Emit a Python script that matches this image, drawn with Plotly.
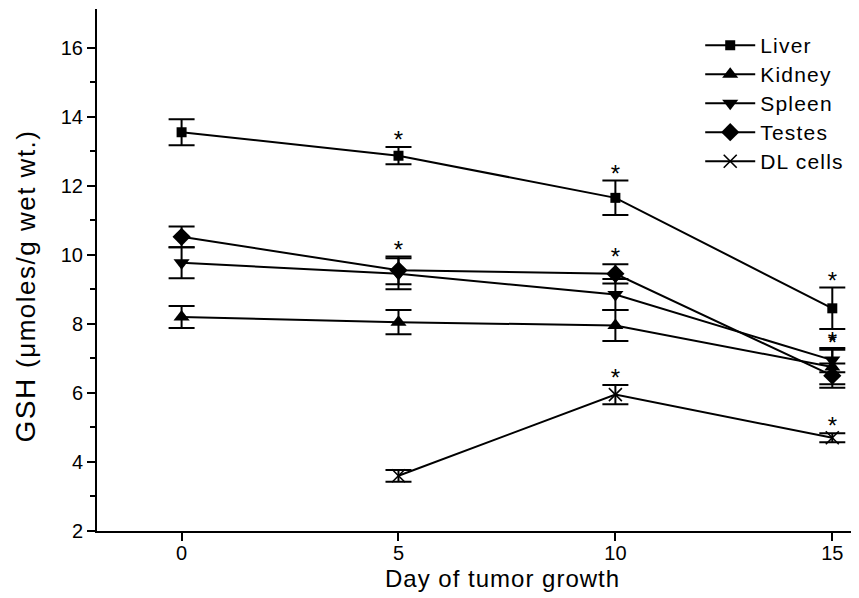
import plotly.graph_objects as go

days = [0, 5, 10, 15]
dl_days = [5, 10, 15]

liver = [13.55, 12.87, 11.65, 8.45]
liver_err = [0.38, 0.25, 0.5, 0.6]
kidney = [8.2, 8.05, 7.95, 6.75]
kidney_err = [0.32, 0.35, 0.45, 0.5]
spleen = [9.77, 9.45, 8.85, 6.95]
spleen_err = [0.45, 0.45, 0.45, 0.35]
testes = [10.52, 9.55, 9.45, 6.5]
testes_err = [0.3, 0.4, 0.28, 0.35]
dl_cells = [3.6, 5.95, 4.7]
dl_err = [0.17, 0.28, 0.13]

# significance flags (asterisks) per series, aligned with the series' x values
liver_sig = [False, True, True, True]
kidney_sig = [False, False, False, True]
spleen_sig = [False, False, False, True]
testes_sig = [False, True, True, False]
dl_sig = [False, True, True]

FONT = "Liberation Sans, Arial, sans-serif"
STAR_GAP = 0.14  # small lift of the asterisk above the error-bar cap (data units)

series = [
    ("Liver", days, liver, liver_err, liver_sig, dict(symbol="square", size=10)),
    ("Kidney", days, kidney, kidney_err, kidney_sig, dict(symbol="triangle-up", size=14)),
    ("Spleen", days, spleen, spleen_err, spleen_sig, dict(symbol="triangle-down", size=14)),
    ("Testes", days, testes, testes_err, testes_sig, dict(symbol="diamond", size=14)),
    ("DL cells", dl_days, dl_cells, dl_err, dl_sig, dict(symbol="x-thin", size=13, line=dict(width=1.6, color="black"))),
]

fig = go.Figure()
for i, (name, xs, ys, es, sig, mk) in enumerate(series):
    fig.add_trace(go.Scatter(
        x=xs, y=ys,
        name="<span style='font-size:21px;letter-spacing:1.2px'>%s</span>" % name,
        mode="lines+markers",
        line=dict(color="black", width=2),
        marker=dict(color="black", **mk),
        error_y=dict(type="data", array=es, visible=True, color="black", thickness=2, width=13),
        cliponaxis=False,
    ))

for name, xs, ys, es, sig, mk in series:
    sx = [x for x, s in zip(xs, sig) if s]
    sy = [y + e + STAR_GAP for y, e, s in zip(ys, es, sig) if s]
    fig.add_trace(go.Scatter(
        x=sx, y=sy, mode="text", text=["*"] * len(sx), textposition="middle center",
        textfont=dict(family=FONT, size=24, color="black"),
        showlegend=False, hoverinfo="skip", cliponaxis=False,
    ))

fig.add_annotation(
    text="<span style='letter-spacing:1px'>Day of tumor growth</span>",
    xref="paper", yref="paper", x=0.527, y=-0.062, xanchor="center", yanchor="top",
    showarrow=False, font=dict(family=FONT, size=24, color="black"),
)
fig.add_annotation(
    text="<span style='letter-spacing:1.5px'>GSH <span style='font-size:26px'>(\u03bcmoles/g wet wt.)</span></span>",
    xref="paper", yref="paper", x=-0.0925, y=0.47, xanchor="center", yanchor="middle",
    textangle=-90, showarrow=False, font=dict(family=FONT, size=28, color="black"),
)

fig.update_layout(
    width=859, height=598,
    margin=dict(l=89, r=0, t=1, b=75),
    paper_bgcolor="white", plot_bgcolor="white",
    font=dict(family=FONT, size=18, color="black"),
    showlegend=True,
    legend=dict(
        x=0.7834, y=0.968, xanchor="left", yanchor="top",
        font=dict(family=FONT, size=20, color="black"),
        bgcolor="rgba(0,0,0,0)", tracegroupgap=0, itemwidth=50,
    ),
    xaxis=dict(
        range=[-1.95, 15.8], tickvals=[0, 5, 10, 15], ticktext=["0", "5", "10", "15"],
        showline=True, linecolor="black", linewidth=2,
        ticks="outside", ticklen=8, tickwidth=2, tickcolor="black",
        ticklabelstandoff=-5,
        showgrid=False, zeroline=False, automargin=False,
        tickfont=dict(family=FONT, size=20),
    ),
    yaxis=dict(
        range=[2, 17.12], tickvals=[2, 4, 6, 8, 10, 12, 14, 16],
        showline=True, linecolor="black", linewidth=2,
        ticks="outside", ticklen=8, tickwidth=2, tickcolor="black",
        minor=dict(tickvals=[3, 5, 7, 9, 11, 13, 15], ticks="outside", ticklen=5, tickwidth=2, tickcolor="black", showgrid=False),
        showgrid=False, zeroline=False, automargin=False,
        tickfont=dict(family=FONT, size=20),
    ),
)

fig.write_html("out.html")
